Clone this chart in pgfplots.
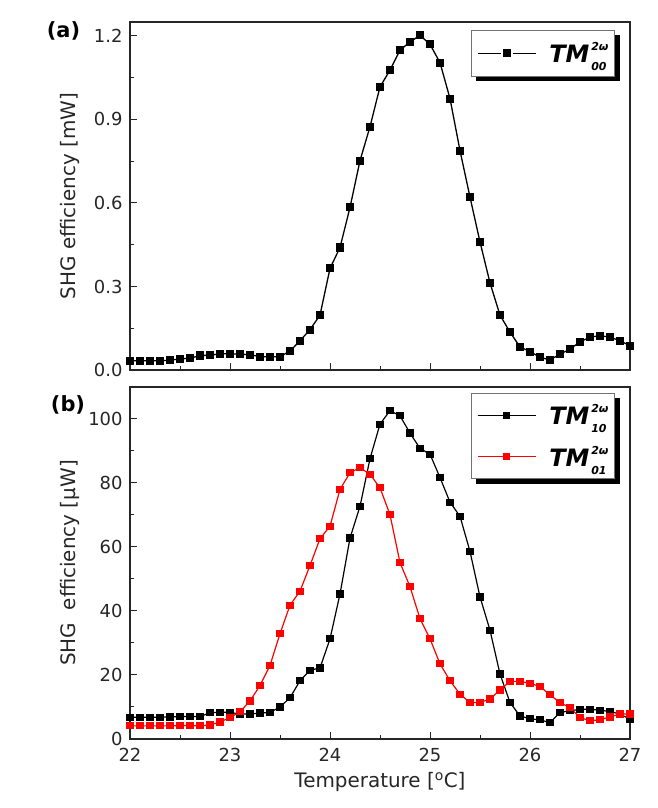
\documentclass[border=0pt]{standalone}
\usepackage{fontspec}
\setmainfont{DejaVu Sans}
\usepackage{pgfplots}
\pgfplotsset{compat=1.18}
\pgfdeclarelayer{background}
\pgfsetlayers{background,main}

\newcommand{\TM}[1]{\hspace{11bp}{\fontsize{24}{24}\selectfont\bfseries\itshape TM}\kern2bp\rlap{\raisebox{12bp}{\fontsize{11}{11}\selectfont\bfseries\itshape 2ω}}\raisebox{-8bp}{\fontsize{11}{11}\selectfont\bfseries\itshape #1}\hspace{10bp}}

\pgfplotstableread{
T v
22.0 0.033
22.1 0.033
22.2 0.033
22.3 0.033
22.4 0.035
22.5 0.040
22.6 0.042
22.7 0.052
22.8 0.053
22.9 0.058
23.0 0.058
23.1 0.057
23.2 0.055
23.3 0.048
23.4 0.047
23.5 0.048
23.6 0.068
23.7 0.105
23.8 0.145
23.9 0.197
24.0 0.365
24.1 0.44
24.2 0.584
24.3 0.752
24.4 0.874
24.5 1.017
24.6 1.077
24.7 1.149
24.8 1.178
24.9 1.202
25.0 1.170
25.1 1.104
25.2 0.975
25.3 0.788
25.4 0.621
25.5 0.46
25.6 0.313
25.7 0.197
25.8 0.136
25.9 0.083
26.0 0.066
26.1 0.046
26.2 0.036
26.3 0.057
26.4 0.075
26.5 0.101
26.6 0.118
26.7 0.123
26.8 0.118
26.9 0.105
27.0 0.087
}\tmzz

\pgfplotstableread{
T v
22.0 6.8
22.1 6.8
22.2 6.8
22.3 6.8
22.4 6.9
22.5 7.0
22.6 7.1
22.7 7.0
22.8 8.2
22.9 8.4
23.0 8.3
23.1 7.8
23.2 7.8
23.3 8.1
23.4 8.3
23.5 10.0
23.6 12.9
23.7 18.2
23.8 21.5
23.9 22.2
24.0 31.3
24.1 45.3
24.2 62.8
24.3 72.7
24.4 87.6
24.5 98.4
24.6 102.6
24.7 101.0
24.8 95.6
24.9 90.8
25.0 89.0
25.1 81.7
25.2 74.0
25.3 69.6
25.4 58.6
25.5 44.4
25.6 34.0
25.7 20.3
25.8 11.4
25.9 7.2
26.0 6.3
26.1 6.0
26.2 5.1
26.3 8.3
26.4 8.8
26.5 9.3
26.6 9.3
26.7 9.0
26.8 8.6
26.9 7.8
27.0 6.2
}\tmoz

\pgfplotstableread{
T v
22.0 4.1
22.1 4.1
22.2 4.1
22.3 4.1
22.4 4.1
22.5 4.2
22.6 4.2
22.7 4.1
22.8 4.4
22.9 5.3
23.0 6.7
23.1 8.5
23.2 11.9
23.3 16.7
23.4 23.0
23.5 32.9
23.6 41.8
23.7 46.2
23.8 54.2
23.9 62.6
24.0 66.5
24.1 78.0
24.2 83.2
24.3 84.8
24.4 82.7
24.5 78.5
24.6 70.1
24.7 55.1
24.8 47.6
24.9 37.6
25.0 31.3
25.1 23.5
25.2 18.2
25.3 14.0
25.4 11.4
25.5 11.4
25.6 12.5
25.7 15.3
25.8 18.0
25.9 18.0
26.0 17.4
26.1 16.4
26.2 13.8
26.3 11.4
26.4 9.8
26.5 6.7
26.6 5.7
26.7 6.0
26.8 6.9
26.9 7.8
27.0 7.8
}\tmzo

\begin{document}
\begin{tikzpicture}
\useasboundingbox (0,0) rectangle (658bp,808bp);
\pgfplotsset{
 common/.style={
  scale only axis, width=500bp, xmin=22, xmax=27,
  axis line style={black!85, line width=1.2bp},
  tick style={black!85, line width=1bp},
  tick align=inside, major tick length=7bp, minor tick length=4bp,
  tick pos=left,
  xtick={22,23,24,25,26,27}, minor x tick num=1, minor y tick num=1,
  tick label style={font=\fontsize{18}{18}\selectfont, text=black!85},
  /pgf/number format/assume math mode=true,
  every axis y label/.style={at={(axis description cs:-0.12,0.5)}, rotate=90, anchor=center,
    font=\fontsize{20}{20}\selectfont, text=black!85},
  every axis x label/.style={at={(axis description cs:0.5,-0.122)}, anchor=center,
    font=\fontsize{20}{20}\selectfont, text=black!85},
  yticklabel style={xshift=-4bp},
  xticklabel style={yshift=-6bp},
  legend cell align=left,
  legend style={draw=black!55, line width=0.8bp, fill=white,
    inner xsep=6bp, inner ysep=10bp, row sep=16bp},
 }
}
% panel (a)
\begin{axis}[common,
  at={(130bp,438bp)}, anchor=south west, height=348bp,
  ymin=0, ymax=1.25, ytick={0,0.3,0.6,0.9,1.2},
  yticklabel style={/pgf/number format/.cd, fixed, fixed zerofill, precision=1},
  xticklabels={},
  ylabel={SHG efficiency [mW]},
  legend style={at={(rel axis cs:0.97,0.977)}, anchor=north east, name=legA},
  legend image code/.code={
    \draw[#1] (0bp,0bp) -- (23bp,0bp);
    \draw[#1] (35bp,0bp) -- (58bp,0bp);
    \draw[#1] plot coordinates {(29bp,0bp)};},
]
\addplot[black, line width=1.3bp, mark=square*, mark size=3.4bp, mark options={solid}] table[x=T,y=v] {\tmzz};
\addlegendentry{\TM{00}}
\end{axis}
% panel (b)
\begin{axis}[common,
  at={(130bp,69bp)}, anchor=south west, height=352bp,
  ymin=0, ymax=110, ytick={0,20,40,60,80,100},
  ylabel={SHG~ efficiency [μW]},
  xlabel={Temperature [\textsuperscript{o}C]},
  legend style={at={(rel axis cs:0.97,0.983)}, anchor=north east, name=legB, inner ysep=9bp},
  legend image code/.code={
    \draw[mark repeat=2, mark phase=2, #1] plot coordinates {(0bp,0bp) (29bp,0bp) (58bp,0bp)};},
]
\addplot[black, line width=1.2bp, mark=square*, mark size=3bp, mark options={solid}] table[x=T,y=v] {\tmoz};
\addlegendentry{\TM{10}}
\addplot[red, line width=1.2bp, mark=square*, mark size=3bp, mark options={solid}] table[x=T,y=v] {\tmzo};
\addlegendentry{\TM{01}}
\end{axis}
\begin{pgfonlayer}{background}
\fill[black] ([shift={(5bp,-5bp)}]legA.south west) rectangle ([shift={(5bp,-5bp)}]legA.north east);
\fill[black] ([shift={(5bp,-5bp)}]legB.south west) rectangle ([shift={(5bp,-5bp)}]legB.north east);
\end{pgfonlayer}
\node[font=\bfseries\fontsize{21}{21}\selectfont] at (63.5bp,777bp) {(a)};
\node[font=\bfseries\fontsize{21}{21}\selectfont] at (68bp,403bp) {(b)};
\end{tikzpicture}
\end{document}
